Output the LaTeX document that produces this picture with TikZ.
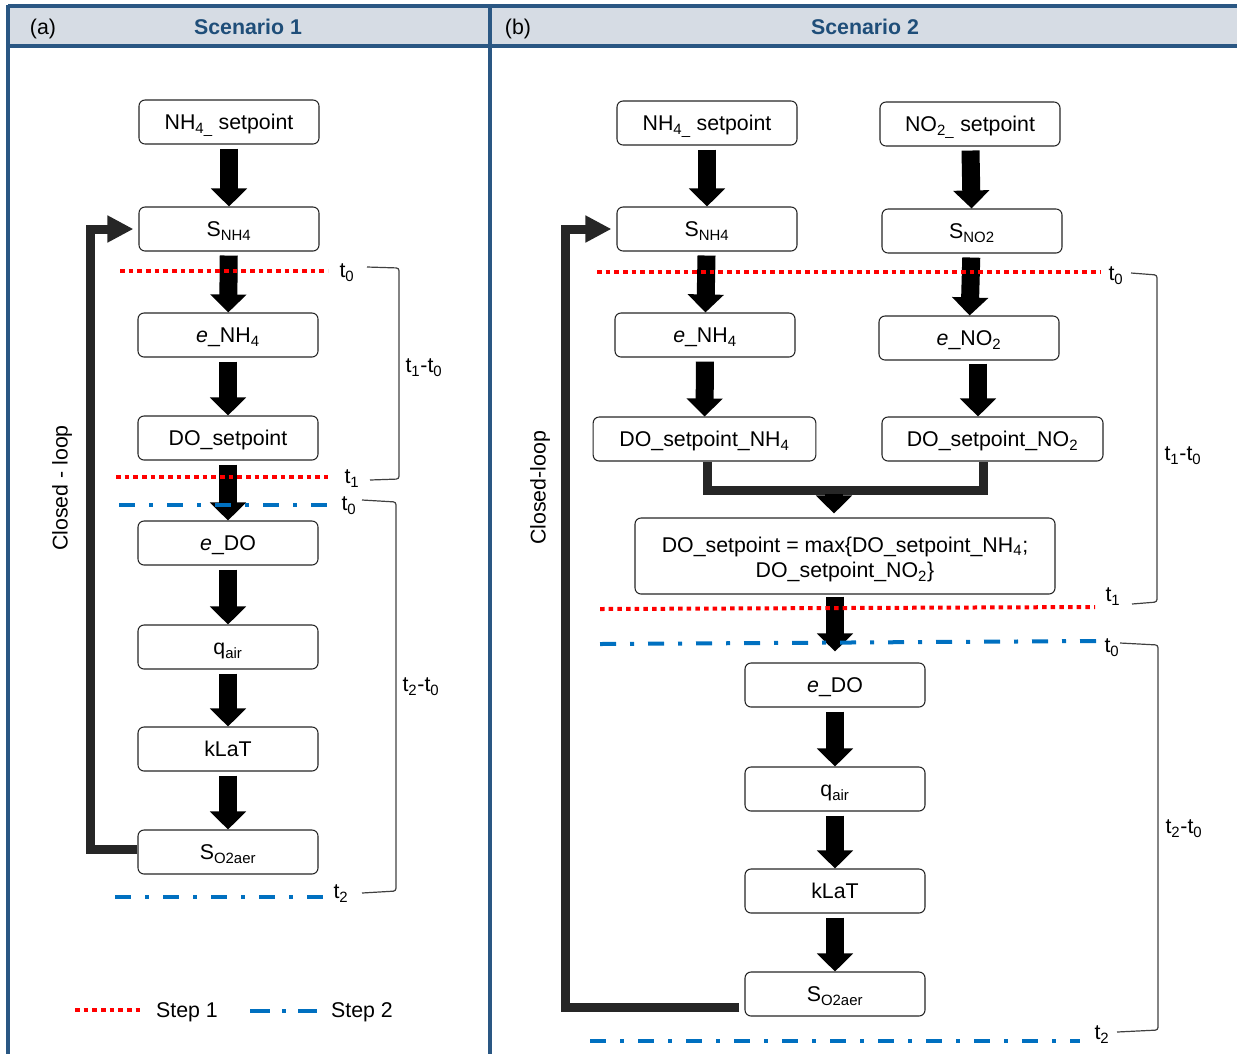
\documentclass[tikz,border=0pt]{standalone}
\usepackage{fontspec}
\setmainfont{Liberation Sans}
\usetikzlibrary{arrows.meta,calc}
\definecolor{frame}{HTML}{2A5783}
\definecolor{hdr}{HTML}{D6DCE4}
\definecolor{ttl}{HTML}{1F4E79}
\definecolor{loopc}{HTML}{262626}
\definecolor{stepone}{HTML}{FF0000}
\definecolor{steptwo}{HTML}{0070C0}
\begin{document}
\begin{tikzpicture}[x=0.75pt,y=-0.75pt,
 every node/.style={font=\fontsize{16}{19}\selectfont, inner sep=0pt, text height=11.5pt, text depth=0pt},
 box/.style={draw=black!85, line width=0.8pt, rounded corners=4.5pt, minimum width=135pt, minimum height=33pt, align=center, fill=white},
 blk/.style={line width=13.5pt, draw=black, -{Triangle[width=26.5pt,length=13.5pt]}},
 fb/.style={line width=6.75pt, draw=loopc, -{Triangle[width=19pt,length=19.5pt]}},
 mrg/.style={line width=6.75pt, draw=loopc},
 s1/.style={draw=stepone, line width=3pt, dash pattern=on 3.4pt off 3.1pt},
 s2/.style={draw=steptwo, line width=3pt, dash pattern=on 12pt off 10.5pt on 3pt off 10.5pt},
 brk/.style={draw=black!75, line width=0.9pt, rounded corners=2pt},
 ttlf/.style={font=\fontsize{16}{19}\selectfont\bfseries, text=ttl}]
\useasboundingbox (0,0) rectangle (1237,1054);
% frame and header
\fill[hdr] (8,6) rectangle (1237,46);
\draw[frame, line width=3pt] (8,6) -- (1237,6) (8,46) -- (1237,46) (8,4.5) -- (8,1054) (490,4.5) -- (490,1054);
\node (la) at (43,27) {(a)};
\node[ttlf] (ta) at (248,27) {Scenario 1};
\node (lb) at (518,27) {(b)};
\node[ttlf] (tb) at (865,27) {Scenario 2};

% ---------- left panel nodes
\node[box] (nh4a) at (229,122) {NH\textsubscript{4\_} setpoint};
\node[box] (snh4a) at (229,229) {S\textsubscript{NH4}};
\node[box] (enh4a) at (228,335) {\textit{e}\_NH\textsubscript{4}};
\node[box] (doa) at (228,438) {DO\_setpoint};
\node[box] (edoa) at (228,543) {\textit{e}\_DO};
\node[box] (qa) at (228,647) {q\textsubscript{air}};
\node[box] (kla) at (228,749) {kLaT};
\node[box] (so2a) at (228,852) {S\textsubscript{O2aer}};

% ---------- right panel nodes
\node[box] (nh4b) at (707,123) {NH\textsubscript{4\_} setpoint};
\node[box] (no2b) at (970,124) {NO\textsubscript{2\_} setpoint};
\node[box] (snh4b) at (707,229) {S\textsubscript{NH4}};
\node[box] (sno2b) at (972,231) {S\textsubscript{NO2}};
\node[box] (enh4b) at (705,335) {\textit{e}\_NH\textsubscript{4}};
\node[box] (eno2b) at (969,338) {\textit{e}\_NO\textsubscript{2}};
\node[box, minimum width=167pt] (donh4b) at (704.5,439) {DO\_setpoint\_NH\textsubscript{4}};
\node[box, minimum width=165.75pt] (dono2b) at (992.5,439) {DO\_setpoint\_NO\textsubscript{2}};
\node[box, minimum width=315pt, minimum height=57pt, text height={}, text depth={}] (domax) at (845,556) {\rule{0pt}{17pt}DO\_setpoint = max\{DO\_setpoint\_NH\textsubscript{4};\\DO\_setpoint\_NO\textsubscript{2}\}};
\node[box] (edob) at (835,685) {\textit{e}\_DO};
\node[box] (qb) at (835,789) {q\textsubscript{air}};
\node[box] (klb) at (835,891) {kLaT};
\node[box] (so2b) at (835,994) {S\textsubscript{O2aer}};

% ---------- block arrows left
\foreach \a/\b in {nh4a/snh4a, snh4a/enh4a, enh4a/doa, doa/edoa, edoa/qa, qa/kla, kla/so2a}
  \draw[blk, shorten <=3pt] (\a) -- (\b);
% ---------- block arrows right
\foreach \a/\b in {nh4b/snh4b, no2b/sno2b, snh4b/enh4b, sno2b/eno2b, enh4b/donh4b, edob/qb, qb/klb, klb/so2b}
  \draw[blk, shorten <=3pt] (\a) -- (\b);
\draw[blk] ($(eno2b.south)+(9,3)$) -- ($(dono2b.north)+(-14.5,0)$);
% merge
\draw[mrg] ($(donh4b.south)+(2.5,0)$) -- ($(donh4b.south)+(2.5,29)$) -- ($(dono2b.south)+(-9.5,29)$) -- ($(dono2b.south)+(-9.5,0)$);
\coordinate (mj) at (834,490);
\draw[blk] ($(mj)+(0,4)$) -- ($(mj |- domax.north)+(0,-4)$);
\draw[blk] ($(edob.north |- domax.south)+(0,2)$) -- ($(edob.north)+(0,-11)$);

% ---------- feedback loops
\draw[fb] ($(so2a.west)+(0,-3)$) -| ($(snh4a.west)+(-48,0)$) -- ($(snh4a.west)+(-5,0)$);
\draw[fb] ($(so2b.west)+(-5,13)$) -| ($(snh4b.west)+(-51,0)$) -- ($(snh4b.west)+(-5,0)$);
\node[rotate=90] (cla) at (60,488) {Closed - loop};
\node[rotate=90] (clb) at (538,488) {Closed-loop};

% ---------- step lines left
\draw[s1] (120,271) -- (328,271);
\node at (347,270) {t\textsubscript{0}};
\draw[s1] (116,477) -- (328,477);
\node at (352,476) {t\textsubscript{1}};
\draw[s2] (119,505) -- (334,505);
\node at (349,503) {t\textsubscript{0}};
\draw[s2] (115,897) -- (330,897);
\node at (341,891) {t\textsubscript{2}};
% brackets left
\draw[brk] (367,267) -- (399,268) -- (399,479) -- (370,480);
\draw[brk] (362,500) -- (396,502) -- (396,891) -- (362,893);
\node at (424,365) {t\textsubscript{1}-t\textsubscript{0}};
\node at (421,684) {t\textsubscript{2}-t\textsubscript{0}};

% ---------- step lines right
\draw[s1] (597,272) -- (1101,272);
\node at (1116,273) {t\textsubscript{0}};
\draw[s1] (600,609) -- (1095,607);
\node at (1113,594) {t\textsubscript{1}};
\draw[s2] (600,644) -- (1098,641);
\node at (1112,645) {t\textsubscript{0}};
\draw[s2] (590,1041) -- (1080,1041);
\node at (1102,1032) {t\textsubscript{2}};
% brackets right
\draw[brk] (1131,273) -- (1157,275) -- (1157,602) -- (1132,604);
\draw[brk] (1120,643) -- (1158,645) -- (1158,1030) -- (1117,1032);
\node at (1183,453) {t\textsubscript{1}-t\textsubscript{0}};
\node at (1184,826) {t\textsubscript{2}-t\textsubscript{0}};

% ---------- legend
\draw[s1] (75,1010) -- (142,1010);
\node at (187,1010) {Step 1};
\draw[s2, dash pattern=on 15pt off 9pt on 3pt off 9pt] (250,1011) -- (317,1011);
\node at (362,1010) {Step 2};
\end{tikzpicture}
\end{document}
